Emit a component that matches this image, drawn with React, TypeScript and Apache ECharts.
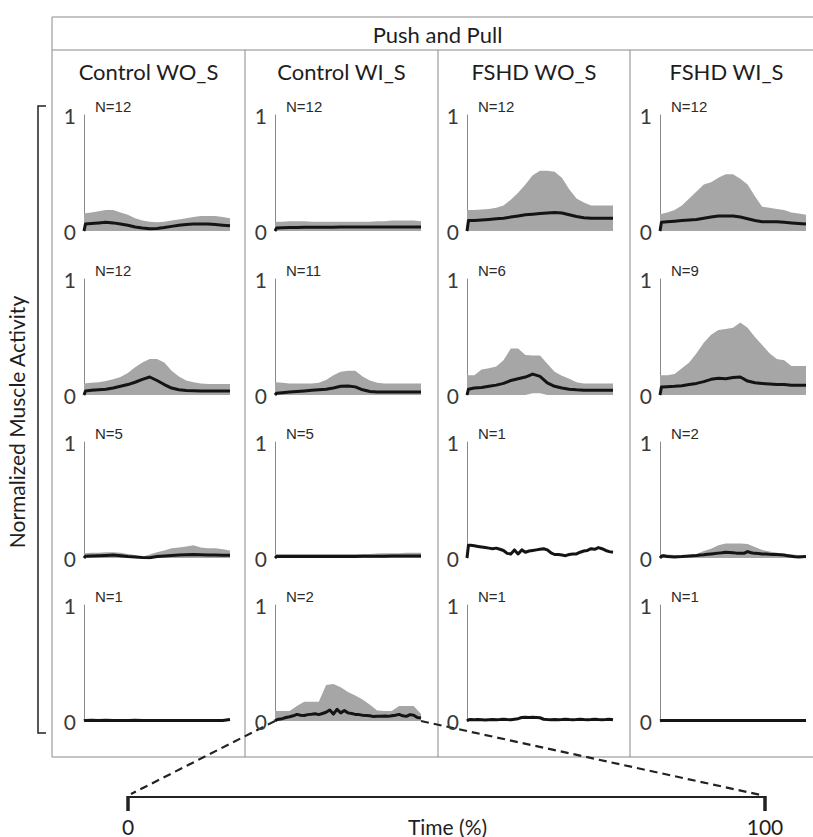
import React, { useEffect, useRef } from "react";
import * as echarts from "echarts";

const TITLE = "Push and Pull";
const GROUPS = ["Control WO_S", "Control WI_S", "FSHD WO_S", "FSHD WI_S"];
const Y_LABEL = "Normalized Muscle Activity";
const X_LABEL = "Time (%)";
const TIME_TICKS = ["0", "100"];
const N_LABELS = [
  ["N=12", "N=12", "N=12", "N=12"],
  ["N=12", "N=11", "N=6", "N=9"],
  ["N=5", "N=5", "N=1", "N=2"],
  ["N=1", "N=2", "N=1", "N=1"],
];

const BAND_X = [0, 5, 10, 15, 20, 25, 30, 35, 40, 45, 50, 55, 60, 65, 70, 75, 80, 85, 90, 95, 100];
const MEAN_X = [0, 1, 5, 10, 15, 20, 25, 30, 35, 40, 45, 50, 55, 60, 65, 70, 75, 80, 85, 90, 95, 100];
const FINE_X = [0, 1, 2.5, 5, 7.5, 10, 12.5, 15, 17.5, 20, 22.5, 25, 27.5, 30, 32.5, 35, 37.5, 40, 42.5, 45, 47.5, 50, 52.5, 55, 57.5, 60, 62.5, 65, 67.5, 70, 72.5, 75, 77.5, 80, 82.5, 85, 87.5, 90, 92.5, 95, 97.5, 100];

// Row 1
const mean_r1c1 = [0, 0.06, 0.065, 0.07, 0.075, 0.07, 0.06, 0.05, 0.035, 0.025, 0.02, 0.022, 0.03, 0.04, 0.05, 0.055, 0.06, 0.06, 0.06, 0.055, 0.05, 0.045];
const upper_r1c1 = [0.15, 0.16, 0.17, 0.18, 0.18, 0.16, 0.14, 0.11, 0.09, 0.08, 0.075, 0.08, 0.09, 0.1, 0.11, 0.12, 0.13, 0.13, 0.13, 0.12, 0.11];
const mean_r1c2 = [0, 0.025, 0.028, 0.03, 0.03, 0.032, 0.032, 0.033, 0.033, 0.033, 0.034, 0.034, 0.034, 0.034, 0.035, 0.035, 0.035, 0.035, 0.035, 0.035, 0.035, 0.035];
const upper_r1c2 = [0.08, 0.08, 0.085, 0.085, 0.085, 0.08, 0.08, 0.08, 0.08, 0.08, 0.08, 0.08, 0.08, 0.08, 0.085, 0.085, 0.09, 0.09, 0.09, 0.09, 0.085];
const mean_r1c3 = [0, 0.09, 0.09, 0.095, 0.1, 0.105, 0.11, 0.12, 0.13, 0.14, 0.145, 0.15, 0.155, 0.16, 0.155, 0.14, 0.125, 0.115, 0.11, 0.11, 0.11, 0.11];
const upper_r1c3 = [0.18, 0.18, 0.185, 0.19, 0.2, 0.22, 0.27, 0.33, 0.4, 0.48, 0.52, 0.52, 0.51, 0.46, 0.36, 0.28, 0.245, 0.22, 0.22, 0.22, 0.22];
const mean_r1c4 = [0, 0.075, 0.08, 0.085, 0.09, 0.095, 0.1, 0.11, 0.12, 0.13, 0.13, 0.13, 0.12, 0.105, 0.09, 0.08, 0.08, 0.08, 0.075, 0.07, 0.065, 0.06];
const upper_r1c4 = [0.145, 0.16, 0.18, 0.22, 0.28, 0.34, 0.4, 0.42, 0.46, 0.49, 0.49, 0.45, 0.4, 0.3, 0.21, 0.2, 0.19, 0.18, 0.16, 0.15, 0.14];

// Row 2
const mean_r2c1 = [0, 0.035, 0.04, 0.045, 0.05, 0.06, 0.075, 0.09, 0.11, 0.135, 0.155, 0.125, 0.09, 0.06, 0.045, 0.038, 0.036, 0.035, 0.035, 0.035, 0.035, 0.035];
const upper_r2c1 = [0.1, 0.105, 0.11, 0.12, 0.135, 0.155, 0.19, 0.24, 0.28, 0.31, 0.31, 0.28, 0.21, 0.16, 0.125, 0.11, 0.1, 0.095, 0.095, 0.095, 0.095];
const mean_r2c2 = [0, 0.015, 0.02, 0.025, 0.03, 0.035, 0.04, 0.045, 0.05, 0.06, 0.075, 0.078, 0.07, 0.045, 0.03, 0.026, 0.025, 0.025, 0.025, 0.026, 0.026, 0.026];
const upper_r2c2 = [0.11, 0.105, 0.1, 0.1, 0.1, 0.1, 0.105, 0.13, 0.17, 0.2, 0.21, 0.21, 0.16, 0.125, 0.105, 0.1, 0.1, 0.1, 0.1, 0.1, 0.1];
const mean_r2c3 = [0, 0.05, 0.06, 0.065, 0.075, 0.085, 0.1, 0.125, 0.14, 0.155, 0.18, 0.16, 0.105, 0.075, 0.06, 0.05, 0.045, 0.042, 0.042, 0.042, 0.042, 0.042];
const upper_r2c3 = [0.17, 0.17, 0.22, 0.23, 0.245, 0.3, 0.4, 0.4, 0.345, 0.34, 0.34, 0.27, 0.2, 0.165, 0.14, 0.11, 0.1, 0.1, 0.1, 0.1, 0.1];
const lower_r2c3 = [0, 0, 0, 0, 0, 0, 0, 0, 0, 0.015, 0.015, 0, 0, 0, 0, 0, 0, 0, 0, 0, 0];
const mean_r2c4 = [0, 0.07, 0.072, 0.075, 0.08, 0.09, 0.1, 0.115, 0.135, 0.145, 0.14, 0.15, 0.155, 0.12, 0.105, 0.1, 0.095, 0.09, 0.09, 0.085, 0.085, 0.085];
const upper_r2c4 = [0.17, 0.17, 0.18, 0.23, 0.28, 0.36, 0.45, 0.52, 0.56, 0.57, 0.58, 0.625, 0.58, 0.5, 0.43, 0.36, 0.31, 0.3, 0.25, 0.25, 0.25];

// Row 3
const mean_r3c1 = [0, 0.015, 0.018, 0.02, 0.022, 0.025, 0.02, 0.012, 0.008, 0.004, 0.003, 0.012, 0.018, 0.022, 0.025, 0.028, 0.03, 0.028, 0.026, 0.025, 0.024, 0.023];
const upper_r3c1 = [0.04, 0.045, 0.045, 0.05, 0.05, 0.045, 0.035, 0.025, 0.01, 0.03, 0.05, 0.065, 0.085, 0.09, 0.1, 0.11, 0.09, 0.085, 0.085, 0.075, 0.065];
const mean_r3c2 = [0, 0.012, 0.012, 0.012, 0.012, 0.012, 0.013, 0.013, 0.013, 0.013, 0.014, 0.014, 0.014, 0.015, 0.015, 0.016, 0.016, 0.017, 0.017, 0.018, 0.018, 0.018];
const upper_r3c2 = [0.035, 0.035, 0.035, 0.035, 0.035, 0.035, 0.035, 0.035, 0.035, 0.035, 0.035, 0.035, 0.035, 0.035, 0.038, 0.04, 0.04, 0.042, 0.045, 0.045, 0.045];
const mean_r3c3 = [0, 0.11, 0.11, 0.105, 0.1, 0.095, 0.09, 0.085, 0.08, 0.085, 0.075, 0.065, 0.04, 0.035, 0.07, 0.035, 0.07, 0.05, 0.06, 0.065, 0.07, 0.075, 0.08, 0.07, 0.045, 0.03, 0.03, 0.025, 0.02, 0.03, 0.035, 0.035, 0.05, 0.06, 0.065, 0.08, 0.075, 0.09, 0.08, 0.065, 0.055, 0.05];
const mean_r3c4 = [0, 0.015, 0.02, 0.012, 0.01, 0.008, 0.01, 0.012, 0.015, 0.018, 0.02, 0.022, 0.025, 0.028, 0.032, 0.035, 0.038, 0.042, 0.045, 0.05, 0.048, 0.045, 0.042, 0.04, 0.04, 0.055, 0.045, 0.04, 0.038, 0.035, 0.035, 0.032, 0.03, 0.03, 0.028, 0.025, 0.02, 0.015, 0.01, 0.008, 0.01, 0.012];
const upper_r3c4 = [0.035, 0.03, 0.025, 0.022, 0.025, 0.035, 0.06, 0.08, 0.11, 0.125, 0.125, 0.125, 0.12, 0.095, 0.07, 0.055, 0.045, 0.035, 0.03, 0.025, 0.02];

// Row 4
const mean_r4c1 = [0, 0.005, 0.006, 0.005, 0.006, 0.005, 0.004, 0.005, 0.006, 0.005, 0.004, 0.005, 0.005, 0.004, 0.005, 0.004, 0.005, 0.005, 0.004, 0.005, 0.004, 0.012];
const mean_r4c2 = [0, 0.01, 0.015, 0.02, 0.03, 0.037, 0.045, 0.057, 0.05, 0.047, 0.055, 0.058, 0.062, 0.055, 0.065, 0.075, 0.095, 0.06, 0.1, 0.07, 0.09, 0.07, 0.065, 0.057, 0.055, 0.05, 0.048, 0.045, 0.038, 0.04, 0.042, 0.043, 0.04, 0.045, 0.05, 0.057, 0.045, 0.04, 0.055, 0.05, 0.03, 0.025];
const upper_r4c2 = [0.086, 0.086, 0.086, 0.13, 0.166, 0.166, 0.166, 0.31, 0.32, 0.29, 0.25, 0.22, 0.186, 0.14, 0.09, 0.086, 0.086, 0.13, 0.13, 0.13, 0.06];
const mean_r4c3 = [0, 0.01, 0.012, 0.01, 0.012, 0.01, 0.008, 0.01, 0.012, 0.01, 0.012, 0.015, 0.012, 0.01, 0.015, 0.02, 0.03, 0.032, 0.03, 0.032, 0.03, 0.028, 0.015, 0.012, 0.01, 0.012, 0.01, 0.012, 0.015, 0.012, 0.01, 0.012, 0.015, 0.012, 0.01, 0.012, 0.015, 0.012, 0.01, 0.012, 0.015, 0.01];
const mean_r4c4 = [0, 0.004, 0.004, 0.005, 0.004, 0.004, 0.005, 0.004, 0.004, 0.005, 0.004, 0.004, 0.005, 0.004, 0.004, 0.005, 0.004, 0.004, 0.005, 0.004, 0.004, 0.004];

type Panel = { meanX: number[]; mean: number[]; upper?: number[]; lower?: number[] };

const PANELS: Panel[] = [
  { meanX: MEAN_X, mean: mean_r1c1, upper: upper_r1c1 },
  { meanX: MEAN_X, mean: mean_r1c2, upper: upper_r1c2 },
  { meanX: MEAN_X, mean: mean_r1c3, upper: upper_r1c3 },
  { meanX: MEAN_X, mean: mean_r1c4, upper: upper_r1c4 },
  { meanX: MEAN_X, mean: mean_r2c1, upper: upper_r2c1 },
  { meanX: MEAN_X, mean: mean_r2c2, upper: upper_r2c2 },
  { meanX: MEAN_X, mean: mean_r2c3, upper: upper_r2c3, lower: lower_r2c3 },
  { meanX: MEAN_X, mean: mean_r2c4, upper: upper_r2c4 },
  { meanX: MEAN_X, mean: mean_r3c1, upper: upper_r3c1 },
  { meanX: MEAN_X, mean: mean_r3c2, upper: upper_r3c2 },
  { meanX: FINE_X, mean: mean_r3c3 },
  { meanX: FINE_X, mean: mean_r3c4, upper: upper_r3c4 },
  { meanX: MEAN_X, mean: mean_r4c1 },
  { meanX: FINE_X, mean: mean_r4c2, upper: upper_r4c2 },
  { meanX: FINE_X, mean: mean_r4c3 },
  { meanX: MEAN_X, mean: mean_r4c4 },
];

// layout
const COL_X = [84, 275, 467, 660];
const ROW_TOP = [115, 279, 442, 605];
const PLOT_W = 146;
const PLOT_H = 116;
const FRAME_L = 52;
const FRAME_R = 823;
const FRAME_T = 17;
const HEAD_Y = 50;
const FRAME_B = 757;
const COL_DIV = [245, 438, 630];
const BAR_Y = 797;
const BAR_L = 128;
const BAR_R = 765;

const HEAD_FONT = "Lato, 'Open Sans', sans-serif";
const NUM_FONT = "'Liberation Sans', Arial, sans-serif";
const FRAME_COLOR = "#8a8a8a";
const BAND_COLOR = "#a6a6a6";
const LINE_COLOR = "#141414";

export default function App() {
  const ref = useRef<HTMLDivElement>(null);
  useEffect(() => {
    if (!ref.current) return;
    const chart = echarts.init(ref.current, undefined, { renderer: "svg" });

    const grids: any[] = [];
    const xAxes: any[] = [];
    const yAxes: any[] = [];
    const series: any[] = [];
    PANELS.forEach((p, i) => {
      const r = Math.floor(i / 4);
      const c = i % 4;
      grids.push({ left: COL_X[c], top: ROW_TOP[r], width: PLOT_W, height: PLOT_H, containLabel: false });
      xAxes.push({ type: "value", gridIndex: i, min: 0, max: 100, show: false });
      yAxes.push({
        type: "value",
        gridIndex: i,
        min: 0,
        max: 1,
        interval: 1,
        axisLine: { show: true, lineStyle: { color: FRAME_COLOR, width: 1 } },
        axisTick: { show: false },
        splitLine: { show: false },
        axisLabel: { color: "#3a3a3a", fontSize: 21, fontFamily: HEAD_FONT, margin: 8 },
      });
      if (p.upper) {
        series.push({
          type: "line",
          xAxisIndex: i,
          yAxisIndex: i,
          data: BAND_X.map((x, k) => [x, p.upper![k]]),
          symbol: "none",
          silent: true,
          lineStyle: { width: 0, opacity: 0 },
          areaStyle: { color: BAND_COLOR, opacity: 1 },
          z: 1,
        });
        if (p.lower) {
          series.push({
            type: "line",
            xAxisIndex: i,
            yAxisIndex: i,
            data: BAND_X.map((x, k) => [x, p.lower![k]]),
            symbol: "none",
            silent: true,
            lineStyle: { width: 0, opacity: 0 },
            areaStyle: { color: "#ffffff", opacity: 1 },
            z: 2,
          });
        }
      }
      series.push({
        type: "line",
        xAxisIndex: i,
        yAxisIndex: i,
        data: p.meanX.map((x, k) => [x, p.mean[k]]),
        symbol: "none",
        silent: true,
        lineStyle: { color: LINE_COLOR, width: 3, join: "round" },
        z: 3,
      });
    });

    chart.setOption({
      animation: false,
      backgroundColor: "#ffffff",
      grid: grids,
      xAxis: xAxes,
      yAxis: yAxes,
      series,
    });

    const p0 = chart.convertToPixel({ gridIndex: 13 }, [0, 0]) as number[];
    const p1 = chart.convertToPixel({ gridIndex: 13 }, [100, 0]) as number[];

    const lineEl = (x1: number, y1: number, x2: number, y2: number, stroke: string, lineWidth: number, extra: any = {}) => ({
      type: "line",
      shape: { x1, y1, x2, y2 },
      style: { stroke, lineWidth, ...extra },
      silent: true,
    });

    const elements: any[] = [
      lineEl(FRAME_L, FRAME_T, FRAME_R, FRAME_T, FRAME_COLOR, 1),
      lineEl(FRAME_L, HEAD_Y, FRAME_R, HEAD_Y, FRAME_COLOR, 1),
      lineEl(FRAME_L, FRAME_B, FRAME_R, FRAME_B, FRAME_COLOR, 1),
      lineEl(FRAME_L, FRAME_T, FRAME_L, FRAME_B, FRAME_COLOR, 1),
      ...COL_DIV.map((x) => lineEl(x, HEAD_Y, x, FRAME_B, FRAME_COLOR, 1)),
      {
        type: "text",
        x: (FRAME_L + FRAME_R) / 2,
        y: (FRAME_T + HEAD_Y) / 2 + 1,
        style: { text: TITLE, fill: "#1e1e1e", font: `22px ${HEAD_FONT}`, textAlign: "center", textVerticalAlign: "middle" },
        silent: true,
      },
      ...GROUPS.map((g, c) => {
        const left = c === 0 ? FRAME_L : COL_DIV[c - 1];
        const right = c === 3 ? FRAME_R : COL_DIV[c];
        return {
          type: "text",
          x: (left + right) / 2,
          y: 71,
          style: { text: g, fill: "#1e1e1e", font: `22px ${HEAD_FONT}`, textAlign: "center", textVerticalAlign: "middle" },
          silent: true,
        };
      }),
      ...N_LABELS.flatMap((row, r) =>
        row.map((n, c) => ({
          type: "text",
          x: COL_X[c] + 11,
          y: ROW_TOP[r] - 9,
          style: { text: n, fill: "#2a2a2a", font: `15px ${NUM_FONT}`, textAlign: "left", textVerticalAlign: "middle" },
          silent: true,
        }))
      ),
      {
        type: "polyline",
        shape: { points: [[46, 106], [38, 106], [38, 733], [46, 733]] },
        style: { stroke: "#222", lineWidth: 1.5, fill: null },
        silent: true,
      },
      {
        type: "text",
        x: 16,
        y: 422,
        rotation: Math.PI / 2,
        style: { text: Y_LABEL, fill: "#1e1e1e", font: `21px ${HEAD_FONT}`, textAlign: "center", textVerticalAlign: "middle" },
        silent: true,
      },
      lineEl(BAR_L, BAR_Y, BAR_R, BAR_Y, "#222", 2),
      lineEl(BAR_L, BAR_Y - 1, BAR_L, BAR_Y + 14, "#222", 3.5),
      lineEl(BAR_R, BAR_Y - 1, BAR_R, BAR_Y + 14, "#222", 3.5),
      {
        type: "text",
        x: BAR_L,
        y: 826,
        style: { text: TIME_TICKS[0], fill: "#1e1e1e", font: `21px ${HEAD_FONT}`, textAlign: "center", textVerticalAlign: "middle" },
        silent: true,
      },
      {
        type: "text",
        x: BAR_R,
        y: 826,
        style: { text: TIME_TICKS[1], fill: "#1e1e1e", font: `21px ${HEAD_FONT}`, textAlign: "center", textVerticalAlign: "middle" },
        silent: true,
      },
      {
        type: "text",
        x: (BAR_L + BAR_R) / 2 + 1,
        y: 826,
        style: { text: X_LABEL, fill: "#1e1e1e", font: `21px ${HEAD_FONT}`, textAlign: "center", textVerticalAlign: "middle" },
        silent: true,
      },
      lineEl(p0[0], p0[1], BAR_L + 3, BAR_Y - 3, "#222", 2.2, { lineDash: [8, 5] }),
      lineEl(p1[0], p1[1], BAR_R - 4, BAR_Y - 2, "#222", 2.2, { lineDash: [8, 5] }),
    ];

    chart.setOption({ graphic: { elements } });

    return () => chart.dispose();
  }, []);

  return <div ref={ref} style={{ position: "absolute", left: 0, top: 0, width: 813, height: 837 }} />;
}
